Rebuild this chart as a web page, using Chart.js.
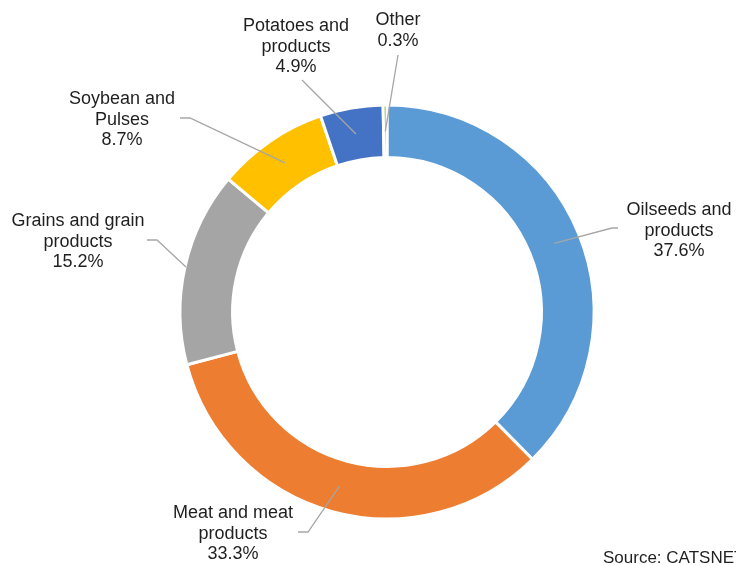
<!DOCTYPE html>
<html><head><meta charset="utf-8">
<script src="https://cdn.jsdelivr.net/npm/chart.js@4/dist/chart.umd.min.js"></script>
<style>html,body{margin:0;padding:0;background:#fff;overflow:hidden}</style>
</head><body>
<canvas id="c" width="736" height="565"></canvas>
<script>
// ---- data ----
const categories = [
  ["Oilseeds and", "products"],
  ["Meat and meat", "products"],
  ["Grains and grain", "products"],
  ["Soybean and", "Pulses"],
  ["Potatoes and", "products"],
  ["Other"]
];
const shares = [37.6, 33.3, 15.2, 8.7, 4.9, 0.3];
const percentLabels = ["37.6%", "33.3%", "15.2%", "8.7%", "4.9%", "0.3%"];
const sourceNote = "Source: CATSNET";

// ---- styling / layout (relative to doughnut centre) ----
const sliceColors = ["#5B9BD5", "#ED7D31", "#A5A5A5", "#FFC000", "#4472C4", "#70AD47"];
const labelLayout = [
  { tx: 292,  ty: -97,  path: [[231, -84], [225, -84]], anchor: "mid" },
  { tx: -154, ty: 206,  path: [[-89, 220], [-79, 220]], anchor: "mid" },
  { tx: -309, ty: -86,  path: [[-240, -72], [-230, -72]], anchor: "outer" },
  { tx: -265, ty: -208, path: [[-207, -194], [-197, -194]], anchor: "mid" },
  { tx: -91,  ty: -281, path: [[-85, -232]], anchor: "mid" },
  { tx: 11,   ty: -287, path: [[11, -257]], anchor: "mid" }
];
const LABEL_FONT = '18px "Liberation Sans", Arial, sans-serif';
const LINE_H = 20.5;

const labelPlugin = {
  id: "calloutLabels",
  afterDatasetsDraw(chart) {
    const ctx = chart.ctx;
    const meta = chart.getDatasetMeta(0);
    ctx.save();
    meta.data.forEach((arc, i) => {
      const p = arc.getProps(["x", "y", "startAngle", "endAngle", "innerRadius", "outerRadius"], true);
      const cx = p.x, cy = p.y;
      const mid = (p.startAngle + p.endAngle) / 2;
      const L = labelLayout[i];
      const r = L.anchor === "outer" ? p.outerRadius - 1 : (p.innerRadius + p.outerRadius) / 2;
      const ax = cx + Math.cos(mid) * r, ay = cy + Math.sin(mid) * r;
      ctx.beginPath();
      ctx.strokeStyle = "#A6A6A6";
      ctx.lineWidth = 1.3;
      L.path.forEach((pt, k) => {
        if (k === 0) ctx.moveTo(cx + pt[0], cy + pt[1]);
        else ctx.lineTo(cx + pt[0], cy + pt[1]);
      });
      ctx.lineTo(ax, ay);
      ctx.stroke();
      ctx.fillStyle = "#1f1f1f";
      ctx.font = LABEL_FONT;
      ctx.textAlign = "center";
      ctx.textBaseline = "alphabetic";
      const lines = categories[i].concat([percentLabels[i]]);
      lines.forEach((t, k) => ctx.fillText(t, cx + L.tx, cy + L.ty + k * LINE_H));
    });
    ctx.font = '17px "Liberation Sans", Arial, sans-serif';
    ctx.textAlign = "left";
    ctx.fillStyle = "#1f1f1f";
    ctx.fillText(sourceNote, 603, 563);
    ctx.restore();
  }
};

new Chart(document.getElementById("c"), {
  type: "doughnut",
  data: {
    labels: categories.map(c => c.join(" ")),
    datasets: [{
      data: shares,
      backgroundColor: sliceColors,
      borderColor: "#ffffff",
      borderWidth: 3
    }]
  },
  options: {
    responsive: false,
    animation: false,
    events: [],
    radius: 207,
    cutout: "74.6%",
    layout: { padding: { left: 140, right: 102, top: 100, bottom: 41 } },
    plugins: { legend: { display: false }, tooltip: { enabled: false } }
  },
  plugins: [labelPlugin]
});
</script>
</body></html>
